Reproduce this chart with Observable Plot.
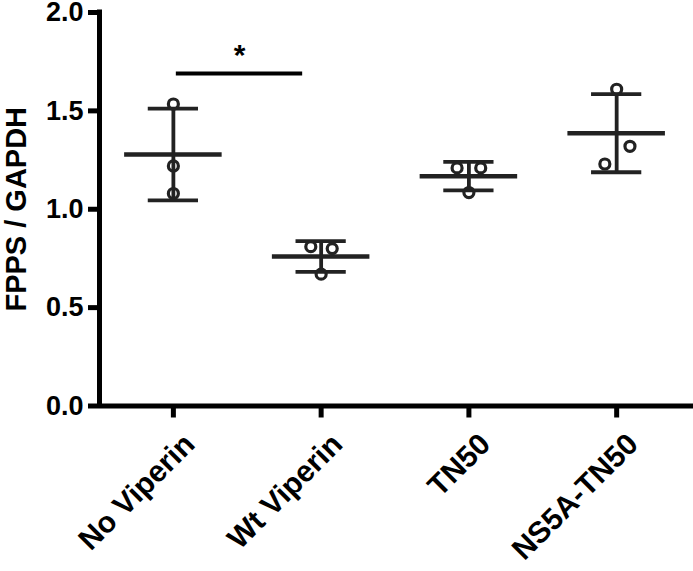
<!DOCTYPE html>
<html>
<head>
<meta charset="utf-8">
<script src="https://cdn.jsdelivr.net/npm/d3@7"></script>
<script src="https://cdn.jsdelivr.net/npm/@observablehq/plot@0.6"></script>
<style>
  html, body { margin: 0; padding: 0; background: #fff; }
  #chart svg { display: block; }
</style>
</head>
<body>
<div id="chart"></div>
<script>
// ---- data ----
const categories = ["No Viperin", "Wt Viperin", "TN50", "NS5A-TN50"];
const noViperin = [1.535, 1.22, 1.08];
const wtViperin = [0.81, 0.80, 0.67];
const tn50 = [1.21, 1.21, 1.085];
const ns5aTn50 = [1.61, 1.32, 1.23];
// horizontal scatter of the replicate circles, in category units
const jitter = [[0, 0, 0], [-0.07, 0.075, 0], [-0.08, 0.08, 0], [0, 0.09, -0.08]];
const yTicks = [0, 0.5, 1.0, 1.5, 2.0];
const yLabel = "FPPS / GAPDH";
const sigPair = ["No Viperin", "Wt Viperin"];
const sigLevel = 1.69;
const sigText = "*";

// ---- derived tables ----
const series = [noViperin, wtViperin, tn50, ns5aTn50];
const points = series.flatMap((vals, i) =>
  vals.map((v, j) => ({cat: categories[i], xi: i + jitter[i][j], value: v})));
const stats = series.map((vals, i) => {
  const m = d3.mean(vals), sd = d3.deviation(vals);
  return {cat: categories[i], xi: i, mean: m, lo: m - sd, hi: m + sd};
});
const sig = [{x1: categories.indexOf(sigPair[0]) + 0.02,
              x2: categories.indexOf(sigPair[1]) - 0.125,
              y: sigLevel, text: sigText}];

const ink = "#222";
const meanHalf = 0.33, capHalf = 0.17;

const chart = Plot.plot({
  width: 693,
  height: 571,
  marginLeft: 99,
  marginRight: 0,
  marginTop: 12,
  marginBottom: 165.5,
  x: {domain: [-0.5, 3.52]},
  y: {domain: [0, 2]},
  style: {fontFamily: "'Liberation Sans', Arial, sans-serif", fontWeight: "bold", color: "#000", background: "#fff"},
  marks: [
    // axes
    Plot.axisY({ticks: yTicks, tickFormat: d3.format(".1f"), tickSize: 11, tickPadding: 5,
                strokeWidth: 5, fontSize: 27, fontWeight: "bold", label: null}),
    Plot.axisX({ticks: d3.range(categories.length), tickFormat: () => "", tickSize: 12,
                strokeWidth: 5, label: null}),
    Plot.ruleY([0], {strokeWidth: 5, stroke: "#000"}),
    Plot.ruleX([-0.5], {y1: 0, y2: 2, strokeWidth: 5, stroke: "#000", strokeLinecap: "square"}),
    // x tick labels
    Plot.text(categories, {x: (d, i) => i, y: 0, text: d => d, rotate: -45, textAnchor: "end",
                           lineAnchor: "top", dx: 8, dy: 25, fontSize: 30, fontWeight: "bold", fill: "#000"}),
    // y label
    Plot.text([yLabel], {frameAnchor: "left", dx: -83, rotate: -90, text: d => d, fontSize: 29,
                         fontWeight: "bold", fill: "#000", textAnchor: "middle", lineAnchor: "middle"}),
    // error bars (mean ± SD)
    Plot.ruleX(stats, {x: "xi", y1: "lo", y2: "hi", stroke: ink, strokeWidth: 3.8}),
    Plot.ruleY(stats, {y: "hi", x1: d => d.xi - capHalf, x2: d => d.xi + capHalf, stroke: ink, strokeWidth: 3.8}),
    Plot.ruleY(stats, {y: "lo", x1: d => d.xi - capHalf, x2: d => d.xi + capHalf, stroke: ink, strokeWidth: 3.8}),
    Plot.ruleY(stats, {y: "mean", x1: d => d.xi - meanHalf, x2: d => d.xi + meanHalf, stroke: ink, strokeWidth: 4.5}),
    // replicate points
    Plot.dot(points, {x: "xi", y: "value", r: 5, stroke: ink, strokeWidth: 3.2, fill: "none"}),
    // significance
    Plot.ruleY(sig, {y: "y", x1: "x1", x2: "x2", stroke: "#000", strokeWidth: 4}),
    Plot.text(sig, {x: d => (d.x1 + d.x2) / 2, y: "y", text: "text", dy: -8, lineAnchor: "bottom",
                    fontSize: 30, fontWeight: "bold", fill: "#000"})
  ]
});
document.getElementById("chart").appendChild(chart);
</script>
</body>
</html>
